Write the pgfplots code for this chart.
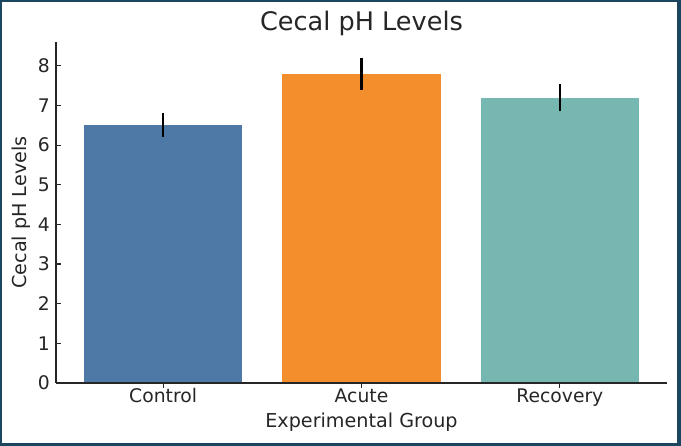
\documentclass[border=0pt]{standalone}
\usepackage{pgfplots}
\pgfplotsset{compat=1.18}
\usepackage{fontspec}
\setmainfont{DejaVu Sans}
\definecolor{cblue}{HTML}{4E79A7}
\definecolor{corange}{HTML}{F28E2B}
\definecolor{cteal}{HTML}{76B7B2}
\definecolor{frame}{HTML}{1C465F}
\definecolor{txt}{HTML}{262626}
\begin{document}
\begin{tikzpicture}
\fill[frame] (0pt,0pt) rectangle (490.32pt,321.12pt);
\fill[white] (1.44pt,2.16pt) rectangle (487.44pt,319.68pt);
\useasboundingbox (0pt,0pt) rectangle (490.32pt,321.12pt);
\begin{axis}[
  at={(40.32pt,45.36pt)}, anchor=south west,
  scale only axis, width=439.9pt, height=245.5pt,
  xmin=-0.54, xmax=2.54, ymin=0, ymax=8.6,
  axis x line*=bottom, axis y line*=left,
  axis line style={line width=1pt, black!85},
  tick align=inside,
  major tick length=3.5pt,
  tick style={line width=0.8pt, black!85},
  xtick={0,1,2}, xticklabels={Control,Acute,Recovery},
  ytick={0,1,...,8},
  /pgf/number format/assume math mode=true,
  ticklabel style={font=\fontsize{13.5}{16}\selectfont, text=txt},
  xticklabel style={anchor=base, yshift=-10.3pt, inner sep=0pt},
  yticklabel style={anchor=east, xshift=-4.3pt, inner sep=0pt},
  title={Cecal pH Levels},
  title style={at={(axis description cs:0.5,1)}, anchor=base, yshift=2.4pt, inner sep=0pt, font=\fontsize{18.4}{22}\selectfont, text=txt},
  xlabel={Experimental Group},
  xlabel style={at={(axis description cs:0.5,0)}, anchor=base, yshift=-32.4pt, inner sep=0pt, font=\fontsize{13.8}{16}\selectfont, text=txt},
  ylabel={Cecal pH Levels},
  ylabel style={at={(axis description cs:0,0.5)}, anchor=base, yshift=21.1pt, inner sep=0pt, font=\fontsize{13.8}{16}\selectfont, text=txt},
  ybar, bar width=0.8, bar shift=0pt,
  axis on top,
  clip=false,
]
\addplot[fill=cblue, draw=none, error bars/.cd, y dir=both, y explicit, error mark=none, error bar style={line width=1.5pt, black}]
  coordinates {(0,6.5) +- (0,0.3)};
\addplot[fill=corange, draw=none, error bars/.cd, y dir=both, y explicit, error mark=none, error bar style={line width=1.5pt, black}]
  coordinates {(1,7.8) +- (0,0.4)};
\addplot[fill=cteal, draw=none, error bars/.cd, y dir=both, y explicit, error mark=none, error bar style={line width=1.5pt, black}]
  coordinates {(2,7.2) +- (0,0.35)};
\end{axis}
\end{tikzpicture}
\end{document}
